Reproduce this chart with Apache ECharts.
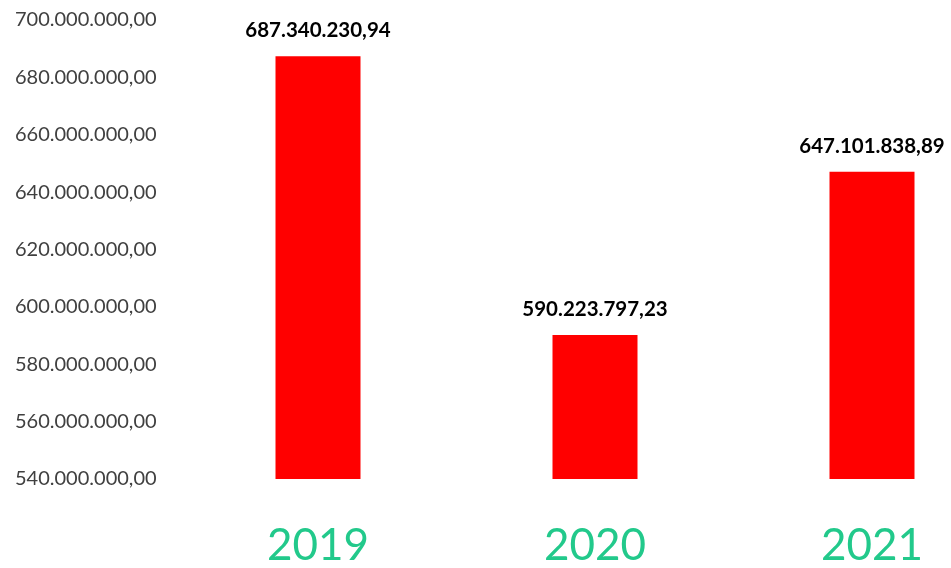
<!DOCTYPE html>
<html><head><meta charset="utf-8">
<script src="https://cdn.jsdelivr.net/npm/echarts@6/dist/echarts.min.js"></script>
<style>html,body{margin:0;padding:0;background:#fff;overflow:hidden;width:951px;height:568px}#c{width:1011px;height:568px}</style>
</head><body><div id="c"></div>
<script>
const categories = ['2019', '2020', '2021'];
const values = [687340230.94, 590223797.23, 647101838.89];
const yMin = 540000000, yMax = 700000000, yStep = 20000000;

function fmt(v) {
  const parts = v.toFixed(2).split('.');
  return parts[0].replace(/\B(?=(\d{3})+(?!\d))/g, '.') + ',' + parts[1];
}

const chart = echarts.init(document.getElementById('c'), null, {renderer: 'canvas'});
chart.setOption({
  animation: false,
  grid: {left: 179.5, top: 20, right: 0.5, bottom: 88},
  xAxis: {
    type: 'category', data: categories,
    axisLine: {show: false}, axisTick: {show: false},
    axisLabel: {color: '#22c98b', fontSize: 44, fontFamily: 'Lato, sans-serif', margin: 45}
  },
  yAxis: {
    type: 'value', min: yMin, max: yMax, interval: yStep,
    splitLine: {show: false}, axisLine: {show: false}, axisTick: {show: false},
    axisLabel: {
      color: '#404040', fontSize: 20, fontFamily: 'Lato, sans-serif',
      align: 'left', margin: 164.5, formatter: v => fmt(v)
    }
  },
  series: [{
    type: 'bar', data: values, barWidth: 85,
    itemStyle: {color: '#ff0000'},
    label: {
      show: true, position: 'top', distance: 15,
      color: '#000', fontWeight: 'bold', fontSize: 20.5, fontFamily: 'Lato, sans-serif',
      formatter: p => fmt(p.value)
    }
  }]
});
</script></body></html>
